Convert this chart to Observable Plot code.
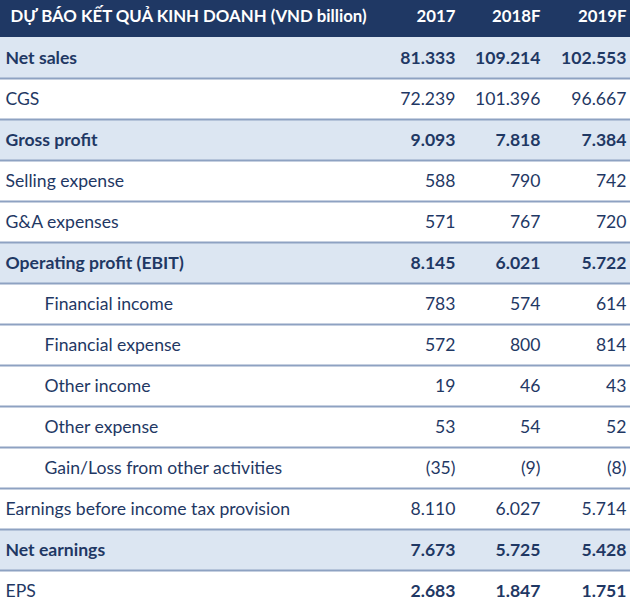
<!DOCTYPE html>
<html>
<head>
<meta charset="utf-8">
<script src="https://cdn.jsdelivr.net/npm/d3@7"></script>
<script src="https://cdn.jsdelivr.net/npm/@observablehq/plot@0.6"></script>
<style>
  html, body { margin: 0; padding: 0; background: #ffffff; }
  #chart svg { display: block; }
</style>
</head>
<body>
<div id="chart"></div>
<script>
// ---- Data ----
const title = "DỰ BÁO KẾT QUẢ KINH DOANH (VND billion)";
const years = ["2017", "2018F", "2019F"];
const items = [
  "Net sales",
  "CGS",
  "Gross profit",
  "Selling expense",
  "G&A expenses",
  "Operating profit (EBIT)",
  "Financial income",
  "Financial expense",
  "Other income",
  "Other expense",
  "Gain/Loss from other activities",
  "Earnings before income tax provision",
  "Net earnings",
  "EPS"
];
const values2017  = [81333, 72239, 9093, 588, 571, 8145, 783, 572, 19, 53, -35, 8110, 7673, 2683];
const values2018F = [109214, 101396, 7818, 790, 767, 6021, 574, 800, 46, 54, -9, 6027, 5725, 1847];
const values2019F = [102553, 96667, 7384, 742, 720, 5722, 614, 814, 43, 52, -8, 5714, 5428, 1751];

// row groupings
const highlightedItems = ["Net sales", "Gross profit", "Operating profit (EBIT)", "Net earnings"];
const boldValueItems = ["Net sales", "Gross profit", "Operating profit (EBIT)", "Net earnings", "EPS"];
const subItems = ["Financial income", "Financial expense", "Other income", "Other expense", "Gain/Loss from other activities"];

// ---- Build tables ----
const HEADER = "__header__";
const rowKeys = [HEADER, ...items];
const seriesByYear = {"2017": values2017, "2018F": values2018F, "2019F": values2019F};

const fmt = v => {
  const s = d3.format(",")(Math.abs(v)).replace(/,/g, ".");
  return v < 0 ? `(${s})` : s;
};

const rows = items.map((name) => ({
  name,
  highlight: highlightedItems.includes(name),
  sub: subItems.includes(name)
}));

const cells = [];
items.forEach((name, i) => {
  years.forEach(y => cells.push({
    name, year: y, value: seriesByYear[y][i],
    bold: boldValueItems.includes(name)
  }));
});

const navy = "#1f3864";
const rowH = 41.15;
const y0 = 36.2 - rowH;

// x positions (layout, in pixels) for columns
const colX = {label: 5, sub: 44, "2017": 455, "2018F": 540, "2019F": 626};

const font = "Lato, 'Open Sans', sans-serif";
const bodySize = 17.6;
const headSize = 16.8;

const chart = Plot.plot({
  width: 630,
  height: 605,
  margin: 0,
  style: {fontFamily: font, background: "#ffffff"},
  x: {type: "linear", domain: [0, 630], range: [0, 630], axis: null},
  y: {type: "band", domain: rowKeys, range: [y0, y0 + rowKeys.length * rowH], padding: 0, axis: null},
  marks: [
    // header background
    Plot.barX([HEADER], {x1: 0, x2: 630, y: d => d, fill: navy}),
    // highlighted rows
    Plot.barX(rows.filter(r => r.highlight), {x1: 0, x2: 630, y: "name", fill: "#dce6f2"}),
    // separators (bottom of each data row)
    Plot.tickY(rows, {y: "name", dy: rowH / 2, stroke: "#8ea2c2", strokeWidth: 2}),
    // header title
    Plot.text([title], {x: colX.label + 5, y: () => HEADER, text: d => d, textAnchor: "start",
      fill: "#ffffff", fontWeight: "bold", fontSize: headSize}),
    // header years
    Plot.text(years, {x: d => colX[d], y: () => HEADER, text: d => d, textAnchor: "end",
      fill: "#ffffff", fontWeight: "bold", fontSize: headSize}),
    // item labels: regular
    Plot.text(rows.filter(r => !r.highlight), {x: r => r.sub ? colX.sub : colX.label, y: "name", text: "name",
      textAnchor: "start", fill: navy, fontSize: bodySize}),
    // item labels: bold
    Plot.text(rows.filter(r => r.highlight), {x: colX.label, y: "name", text: "name",
      textAnchor: "start", fill: navy, fontWeight: "bold", fontSize: bodySize}),
    // values: regular
    Plot.text(cells.filter(c => !c.bold), {x: c => colX[c.year], y: "name", text: c => fmt(c.value),
      textAnchor: "end", fill: navy, fontSize: bodySize}),
    // values: bold
    Plot.text(cells.filter(c => c.bold), {x: c => colX[c.year], y: "name", text: c => fmt(c.value),
      textAnchor: "end", fill: navy, fontWeight: "bold", fontSize: bodySize})
  ]
});

document.getElementById("chart").append(chart);
</script>
</body>
</html>
